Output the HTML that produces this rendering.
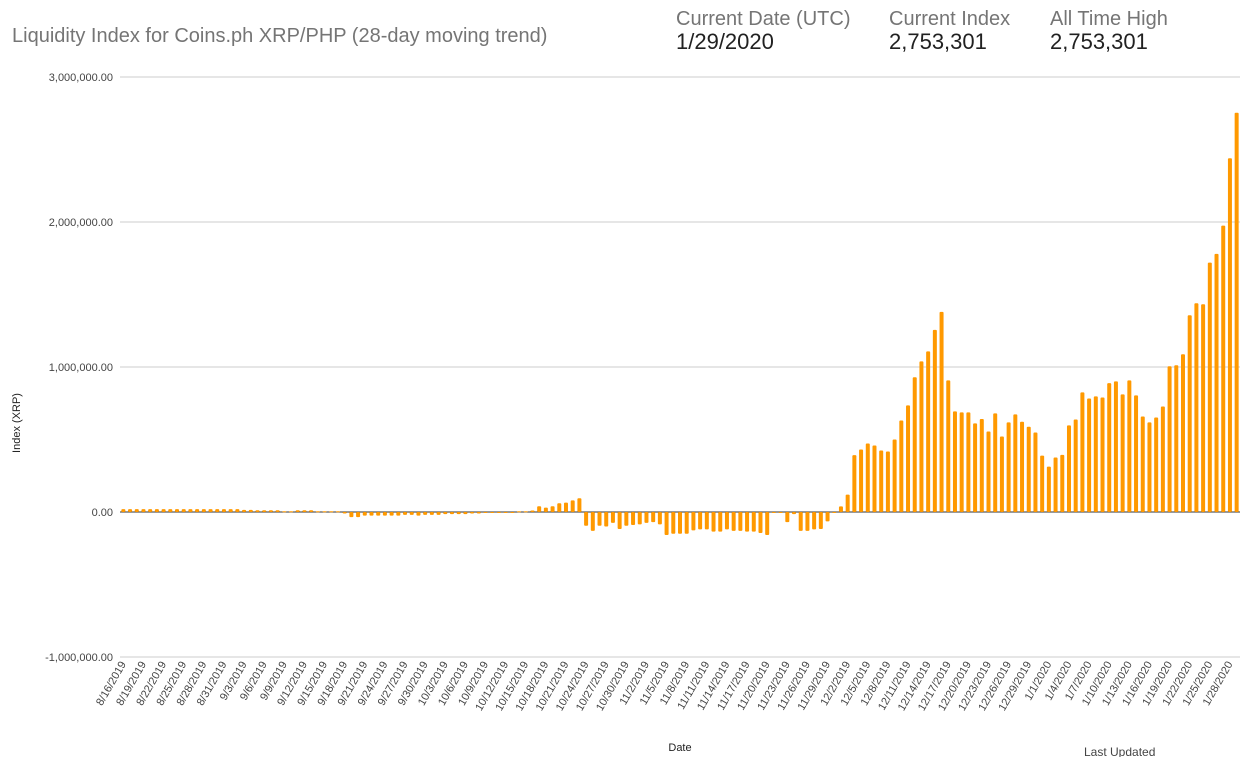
<!DOCTYPE html>
<html><head><meta charset="utf-8"><style>
body{margin:0;background:#fff;font-family:"Liberation Sans",Roboto,sans-serif;}
svg{display:block}
</style></head><body>
<svg id="chart" width="1248" height="757" xmlns="http://www.w3.org/2000/svg">
<text x="12" y="42" font-size="20" fill="#757575">Liquidity Index for Coins.ph XRP/PHP (28-day moving trend)</text>
<text x="676" y="25" font-size="20" fill="#757575">Current Date (UTC)</text>
<text x="676" y="49" font-size="22" fill="#212121">1/29/2020</text>
<text x="889" y="25" font-size="20" fill="#757575">Current Index</text>
<text x="889" y="49" font-size="22" fill="#212121">2,753,301</text>
<text x="1050" y="25" font-size="20" fill="#757575">All Time High</text>
<text x="1050" y="49" font-size="22" fill="#212121">2,753,301</text>
<text transform="translate(20,423) rotate(-90)" text-anchor="middle" font-size="11" fill="#222">Index (XRP)</text>
<text x="680" y="751" text-anchor="middle" font-size="11" fill="#222">Date</text>
<text x="1084" y="756" font-size="12" fill="#444">Last Updated</text>
<g id="grid"></g><g id="bars"></g><g id="xlabels"></g>
</svg>
<script>
const yTicks=[-1000000,0,1000000,2000000,3000000];
const yTickLabels=["-1,000,000.00","0.00","1,000,000.00","2,000,000.00","3,000,000.00"];
const values=[
20000,20000,20000,20000,20000,20000,20000,20000,20000,20000,20000,20000,20000,20000,20000,20000,20000,20000,15000,15000,
12000,12000,12000,12000,5000,5000,12000,12000,12000,5000,5000,5000,5000,
-10000,-35000,-35000,-25000,-25000,-25000,-25000,-25000,-25000,-20000,-20000,-25000,-20000,-20000,-20000,-15000,-15000,-15000,-15000,-10000,-10000,-5000,-5000,-5000,
0,0,5000,5000,10000,40000,30000,40000,60000,65000,80000,95000,
-95000,-130000,-95000,-100000,-75000,-117000,-95000,-90000,-85000,-75000,-70000,-85000,-159000,-150000,-150000,-150000,-127000,-120000,-120000,-135000,-135000,-120000,-130000,-130000,-135000,-135000,-145000,-159000,-5000,-5000,-70000,-15000,-130000,-130000,-120000,-117000,-65000,-5000,
39000,120000,392000,431000,472000,459000,424000,417000,500000,
631000,735000,929000,1039000,1108000,1256000,1380000,908000,694000,687000,
687000,611000,641000,555000,680000,521000,618000,673000,622000,588000,
548000,389000,313000,376000,394000,597000,638000,825000,783000,797000,
790000,889000,901000,811000,908000,804000,659000,618000,652000,728000,
1005000,1012000,1088000,1357000,1440000,1433000,1720000,1780000,1975000,2440000,2753301];
const startDate=[2019,7,16];
const labelStep=3;
const NS="http://www.w3.org/2000/svg";
const L=120,R=1240,Y0=512,PX=145/1e6;
const n=values.length, step=(R-L)/n;
const y=v=>Y0-v*PX;
const x=i=>L+step*(i+0.5);
const grid=document.getElementById('grid');
yTicks.forEach((t,k)=>{
 const ln=document.createElementNS(NS,'line');
 ln.setAttribute('x1',L);ln.setAttribute('x2',R);ln.setAttribute('y1',y(t));ln.setAttribute('y2',y(t));
 ln.setAttribute('stroke',t===0?'#333':'#ccc');ln.setAttribute('stroke-width','1');
 
 
 grid.appendChild(ln);
 const tx=document.createElementNS(NS,'text');
 tx.setAttribute('x',113);tx.setAttribute('y',y(t)+4);tx.setAttribute('text-anchor','end');
 tx.setAttribute('font-size','11');tx.setAttribute('fill','#444');tx.textContent=yTickLabels[k];
 
 
 grid.appendChild(tx);
});
const bars=document.getElementById('bars');
values.forEach((v,i)=>{
 const r=document.createElementNS(NS,'rect');
 const top=Math.min(y(v),Y0),h=Math.max(Math.abs(y(v)-Y0),1);
 r.setAttribute('x',x(i)-2);r.setAttribute('width',4);r.setAttribute('y',top);r.setAttribute('height',h);
 r.setAttribute('rx','1');r.setAttribute('fill','#ff9900');
 
 
 bars.appendChild(r);
});
const xl=document.getElementById('xlabels');
for(let i=0;i<n;i+=labelStep){
 const d=new Date(startDate[0],startDate[1],startDate[2]+i);
 const s=(d.getMonth()+1)+'/'+d.getDate()+'/'+d.getFullYear();
 const t=document.createElementNS(NS,'text');
 t.setAttribute('transform','translate('+(x(i)+3)+',664) rotate(-60)');
 t.setAttribute('text-anchor','end');t.setAttribute('font-size','11');t.setAttribute('fill','#444');
 t.textContent=s;
 
 
 xl.appendChild(t);
}
</script>
</body></html>
